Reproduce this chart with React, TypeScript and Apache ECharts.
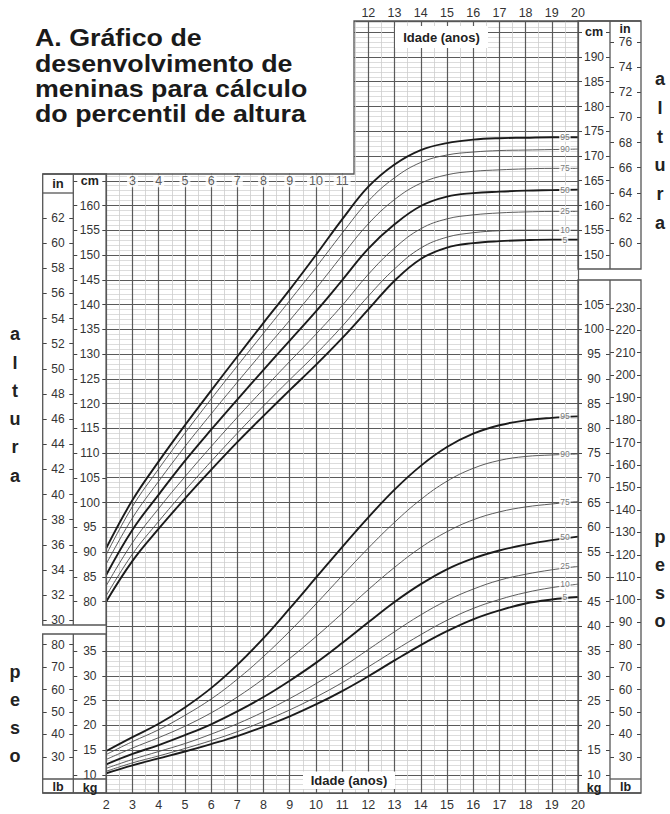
import React, { useEffect, useRef } from "react";
import * as echarts from "echarts";

// ---------------- data ----------------
const AGES = [2, 3, 4, 5, 6, 7, 8, 9, 10, 11, 12, 13, 14, 15, 16, 17, 18, 19, 20];
const PERCENTILES = ["5", "10", "25", "50", "75", "90", "95"];

// stature (cm)
const HEIGHT_P5 = [80.0, 88.2, 94.7, 100.8, 106.6, 112.2, 117.5, 122.7, 127.8, 133.2, 139.0, 144.8, 149.2, 151.5, 152.4, 152.8, 153.0, 153.1, 153.1];
const HEIGHT_P10 = [81.2, 89.6, 96.2, 102.4, 108.3, 114.0, 119.5, 124.8, 130.0, 135.6, 141.7, 147.2, 151.4, 153.6, 154.5, 154.9, 155.0, 155.0, 155.0];
const HEIGHT_P25 = [83.2, 91.9, 98.8, 105.2, 111.3, 117.2, 122.9, 128.5, 134.0, 139.8, 146.1, 151.4, 155.3, 157.3, 158.1, 158.5, 158.7, 158.8, 158.8];
const HEIGHT_P50 = [85.4, 94.5, 101.6, 108.4, 114.7, 120.8, 126.8, 132.7, 138.6, 144.9, 151.3, 156.2, 159.9, 161.8, 162.5, 162.8, 163.0, 163.1, 163.2];
const HEIGHT_P75 = [87.6, 96.9, 104.3, 111.3, 117.9, 124.3, 130.6, 136.8, 143.2, 149.9, 156.3, 161.2, 164.5, 166.2, 166.9, 167.2, 167.4, 167.5, 167.5];
const HEIGHT_P90 = [89.5, 99.2, 106.8, 114.0, 120.9, 127.6, 134.2, 140.8, 147.5, 154.4, 160.9, 165.6, 168.7, 170.2, 170.8, 171.1, 171.2, 171.3, 171.4];
const HEIGHT_P95 = [90.8, 100.5, 108.3, 115.6, 122.6, 129.5, 136.3, 143.0, 150.0, 157.2, 163.8, 168.3, 171.2, 172.6, 173.3, 173.6, 173.7, 173.8, 173.8];

// weight (kg)
const WEIGHT_P5 = [10.3, 11.9, 13.3, 14.7, 16.2, 17.8, 19.7, 21.8, 24.2, 26.9, 29.9, 33.1, 36.2, 39.0, 41.4, 43.2, 44.6, 45.4, 45.9];
const WEIGHT_P10 = [10.7, 12.4, 13.8, 15.3, 16.9, 18.7, 20.8, 23.1, 25.7, 28.6, 31.8, 35.1, 38.3, 41.2, 43.6, 45.4, 46.8, 47.8, 48.5];
const WEIGHT_P25 = [11.3, 13.1, 14.7, 16.3, 18.2, 20.3, 22.7, 25.4, 28.4, 31.7, 35.3, 38.9, 42.3, 45.2, 47.5, 49.3, 50.5, 51.4, 52.1];
const WEIGHT_P50 = [12.1, 14.2, 16.0, 18.0, 20.2, 22.8, 25.7, 29.0, 32.6, 36.6, 40.8, 44.9, 48.5, 51.5, 53.7, 55.3, 56.5, 57.4, 58.1];
const WEIGHT_P75 = [13.1, 15.4, 17.5, 19.8, 22.5, 25.7, 29.4, 33.5, 37.9, 42.6, 47.4, 51.9, 55.9, 59.1, 61.5, 63.1, 64.1, 64.7, 65.2];
const WEIGHT_P90 = [14.1, 16.7, 19.1, 22.0, 25.3, 29.3, 33.9, 39.0, 44.5, 50.2, 55.8, 61.0, 65.6, 69.3, 71.9, 73.5, 74.3, 74.6, 74.8];
const WEIGHT_P95 = [14.8, 17.6, 20.3, 23.6, 27.5, 32.2, 37.6, 43.6, 49.8, 56.0, 62.0, 67.6, 72.4, 76.2, 78.9, 80.6, 81.6, 82.1, 82.4];

const HEIGHTS = [HEIGHT_P5, HEIGHT_P10, HEIGHT_P25, HEIGHT_P50, HEIGHT_P75, HEIGHT_P90, HEIGHT_P95];
const WEIGHTS = [WEIGHT_P5, WEIGHT_P10, WEIGHT_P25, WEIGHT_P50, WEIGHT_P75, WEIGHT_P90, WEIGHT_P95];
const THICK = ["5", "50", "95"];
const LABEL_AGE = 19.5;

// tick labels
const TOP_AGE_TICKS = [12, 13, 14, 15, 16, 17, 18, 19, 20];
const INNER_AGE_TICKS = [3, 4, 5, 6, 7, 8, 9, 10, 11];
const IN_LEFT_TICKS = [30, 32, 34, 36, 38, 40, 42, 44, 46, 48, 50, 52, 54, 56, 58, 60, 62];
const CM_LEFT_TICKS = [80, 85, 90, 95, 100, 105, 110, 115, 120, 125, 130, 135, 140, 145, 150, 155, 160];
const LB_LEFT_TICKS = [30, 40, 50, 60, 70, 80];
const KG_LEFT_TICKS = [10, 15, 20, 25, 30, 35];
const CM_RIGHT_TICKS = [150, 155, 160, 165, 170, 175, 180, 185, 190];
const IN_RIGHT_TICKS = [60, 62, 64, 66, 68, 70, 72, 74, 76];
const KG_RIGHT_TICKS = [10, 15, 20, 25, 30, 35, 40, 45, 50, 55, 60, 65, 70, 75, 80, 85, 90, 95, 100, 105];
const LB_RIGHT_TICKS = [30, 40, 50, 60, 70, 80, 90, 100, 110, 120, 130, 140, 150, 160, 170, 180, 190, 200, 210, 220, 230];

const TITLE_LINES = ["A. Gráfico de", "desenvolvimento de", "meninas para cálculo", "do percentil de altura"];

// ---------------- layout ----------------
const W = 670;
const H = 814;
const GX0 = 106.3;
const GX1 = 578;
const GY0 = 21;
const GY1 = 793;
const Y80 = 601.5; // pixel y of 80 cm
const PX = 4.95; // pixels per cm (and per kg)
const KG_OFFSET = 35; // kg scale shares the cm grid: kg = cm - 35
const LB_PER_KG = 2.20462;
const CM_PER_IN = 2.54;
const cmAt = (y: number) => 80 + (Y80 - y) / PX;
const CM_MIN = cmAt(GY1);
const CM_MAX = cmAt(GY0);

const FONT = '"Liberation Sans", Arial, Helvetica, sans-serif';
const NARROW = '"Liberation Sans Narrow", "Liberation Sans", Arial, sans-serif';
const INK = "#222";
const GRID_MAJOR = "#5a5a5a";
const GRID_MINOR = "#cdcdcd";
const BORDER = "#555";
const TICK_FONT = 12;

type Col = {
  x0: number; x1: number; y0: number; y1: number;
  conv: (cm: number) => number; ticks: number[]; header?: number;
};

const COLS: Col[] = [
  { x0: 42.7, x1: 73.3, y0: 193, y1: 625, conv: (c) => c / CM_PER_IN, ticks: IN_LEFT_TICKS },
  { x0: 73.3, x1: GX0, y0: 174, y1: 625, conv: (c) => c, ticks: CM_LEFT_TICKS, header: 165 },
  { x0: 42.7, x1: 73.3, y0: 634, y1: 778, conv: (c) => (c - KG_OFFSET) * LB_PER_KG, ticks: LB_LEFT_TICKS },
  { x0: 73.3, x1: GX0, y0: 634, y1: 778, conv: (c) => c - KG_OFFSET, ticks: KG_LEFT_TICKS },
  { x0: GX1, x1: 610, y0: GY0, y1: 269, conv: (c) => c, ticks: CM_RIGHT_TICKS, header: 195 },
  { x0: 610, x1: 641, y0: GY0, y1: 269, conv: (c) => c / CM_PER_IN, ticks: IN_RIGHT_TICKS },
  { x0: GX1, x1: 610, y0: 280, y1: 778, conv: (c) => c - KG_OFFSET, ticks: KG_RIGHT_TICKS },
  { x0: 610, x1: 641, y0: 280, y1: 778, conv: (c) => (c - KG_OFFSET) * LB_PER_KG, ticks: LB_RIGHT_TICKS },
];

function buildOption(): any {
  const grids: any[] = [{ left: GX0, top: GY0, width: GX1 - GX0, height: GY1 - GY0 }];
  const xAxes: any[] = [
    {
      type: "value", gridIndex: 0, min: 2, max: 20, interval: 1, position: "bottom",
      axisLine: { show: false }, axisTick: { show: false },
      axisLabel: { margin: 5, color: "#333", fontSize: 12.5, fontFamily: FONT },
      splitLine: { show: true, lineStyle: { color: GRID_MAJOR, width: 1.2 } },
      minorTick: { show: false, splitNumber: 2 },
      minorSplitLine: { show: true, lineStyle: { color: GRID_MINOR, width: 0.8 } },
    },
    {
      type: "value", gridIndex: 0, min: 2, max: 20, position: "top",
      axisLine: { show: false },
      axisTick: { show: false, customValues: TOP_AGE_TICKS },
      axisLabel: { margin: 2, color: "#333", fontSize: 12.5, fontFamily: FONT, customValues: TOP_AGE_TICKS },
      splitLine: { show: false },
    },
  ];
  const yAxes: any[] = [
    {
      type: "value", gridIndex: 0, min: CM_MIN, max: CM_MAX, minInterval: 5, maxInterval: 5, splitNumber: 31,
      axisLine: { show: false }, axisTick: { show: false }, axisLabel: { show: false },
      splitLine: { show: true, lineStyle: { color: GRID_MAJOR, width: 1 } },
      minorTick: { show: false, splitNumber: 5 },
      minorSplitLine: { show: true, lineStyle: { color: GRID_MINOR, width: 0.7 } },
    },
    { type: "value", gridIndex: 0, min: CM_MIN - KG_OFFSET, max: CM_MAX - KG_OFFSET, show: false },
  ];

  COLS.forEach((c, i) => {
    const gi = i + 1;
    grids.push({ left: c.x0, top: c.y0, width: c.x1 - c.x0, height: c.y1 - c.y0 });
    xAxes.push({ type: "value", gridIndex: gi, show: false, min: 0, max: 1 });
    const min = c.conv(cmAt(c.y1));
    const max = c.conv(cmAt(c.y0));
    const vals = c.header != null ? [...c.ticks, c.header] : c.ticks;
    const tick = { show: true, inside: true, length: 4, customValues: vals, lineStyle: { color: "#444", width: 1 } };
    yAxes.push({
      type: "value", gridIndex: gi, position: "left", min, max,
      axisLine: { show: false }, splitLine: { show: false }, axisTick: tick,
      axisLabel: {
        show: true, inside: true, align: "center", margin: (c.x1 - c.x0) / 2,
        customValues: vals, color: "#333", fontSize: TICK_FONT, fontFamily: FONT, lineHeight: 12,
        formatter: (v: number) => (c.header != null && Math.abs(v - c.header) < 1e-6 ? "{h|cm}" : String(v)),
        rich: { h: { fontWeight: "bold", fontSize: 12.5, color: INK, fontFamily: FONT } },
      },
    });
    yAxes.push({
      type: "value", gridIndex: gi, position: "right", min, max,
      axisLine: { show: false }, splitLine: { show: false }, axisTick: tick, axisLabel: { show: false },
    });
  });

  const series: any[] = [];
  PERCENTILES.forEach((p, i) => {
    const thick = THICK.includes(p);
    const style = { color: thick ? "#1b1b1b" : "#4a4a4a", width: thick ? 1.9 : 0.9 };
    series.push({
      type: "line", name: "altura P" + p, xAxisIndex: 0, yAxisIndex: 0,
      data: AGES.map((a, j) => [a, HEIGHTS[i][j]]),
      smooth: 0.4, showSymbol: false, symbol: "none", lineStyle: style, z: 3,
    });
    series.push({
      type: "line", name: "peso P" + p, xAxisIndex: 0, yAxisIndex: 1,
      data: AGES.map((a, j) => [a, WEIGHTS[i][j]]),
      smooth: 0.4, showSymbol: false, symbol: "none", lineStyle: style, z: 3,
    });
  });
  const pctLabel = {
    show: true, position: "inside", formatter: "{b}", color: "#555", fontSize: 8.5, fontFamily: FONT,
    backgroundColor: "#fff", padding: [0, 1],
  };
  series.push({
    type: "scatter", name: "rótulos altura", xAxisIndex: 0, yAxisIndex: 0, symbolSize: 0, z: 5,
    data: PERCENTILES.map((p, i) => ({ name: p, value: [LABEL_AGE, HEIGHTS[i][HEIGHTS[i].length - 1]] })),
    label: pctLabel, silent: true,
  });
  series.push({
    type: "scatter", name: "rótulos peso", xAxisIndex: 0, yAxisIndex: 1, symbolSize: 0, z: 5,
    data: PERCENTILES.map((p, i) => ({ name: p, value: [LABEL_AGE, WEIGHTS[i][WEIGHTS[i].length - 1]] })),
    label: pctLabel, silent: true,
  });
  series.push({
    type: "scatter", name: "idades", xAxisIndex: 0, yAxisIndex: 0, symbolSize: 0, z: 5,
    data: INNER_AGE_TICKS.map((a) => ({ name: String(a), value: [a, 165] })),
    label: {
      show: true, position: "inside", formatter: "{b}", color: "#333", fontSize: 12.5, fontFamily: FONT,
      backgroundColor: "#fff", padding: [0, 2],
    },
    silent: true,
  });

  const line = (x1: number, y1: number, x2: number, y2: number, w = 1.3) => ({
    type: "line", z: 120, shape: { x1, y1, x2, y2 }, style: { stroke: BORDER, lineWidth: w },
  });
  const box = (x: number, y: number, w: number, h: number) => ({
    type: "rect", z: 120, shape: { x, y, width: w, height: h }, style: { fill: null, stroke: BORDER, lineWidth: 1.3 },
  });
  const txt = (text: string, x: number, y: number, size: number, family = FONT, extra: any = {}, el: any = {}) => ({
    type: "text", z: 130, x, y, ...el,
    style: {
      text, fontSize: size, fontWeight: "bold", fontFamily: family, fill: INK,
      align: "center", verticalAlign: "middle", ...extra,
    },
  });

  const graphic: any[] = [
    // blank title corner
    { type: "rect", z: 100, shape: { x: 95, y: 0, width: 354 - 95, height: 173.4 }, style: { fill: "#fff" } },
    // outline of the chart area
    { type: "polyline", z: 120, shape: { points: [[42.7, 174], [354, 174], [354, GY0], [641, GY0]] }, style: { stroke: BORDER, lineWidth: 1.3, fill: null } },
    line(42.7, GY1, 641, GY1),
    line(GX0, 174, GX0, GY1),
    // left boxes
    box(42.7, 174, GX0 - 42.7, 625 - 174),
    line(73.3, 174, 73.3, 625),
    line(42.7, 193, 73.3, 193),
    box(42.7, 634, GX0 - 42.7, GY1 - 634),
    line(73.3, 634, 73.3, GY1),
    line(42.7, 779, GX0, 779),
    // right boxes
    box(GX1, GY0, 641 - GX1, 269 - GY0),
    line(610, GY0, 610, 269),
    box(GX1, 280, 641 - GX1, GY1 - 280),
    line(610, 280, 610, GY1),
    line(610, 779, 641, 779),
    // column headers / footers
    txt("in", 58, 183.5, 13),
    txt("in", 625, 28.5, 12.5),
    txt("lb", 58, 787, 12.5),
    txt("kg", 90, 787.5, 12.5),
    txt("kg", 594, 787.5, 12.5),
    txt("lb", 625.5, 787, 12.5),
    // "Idade (anos)" tags
    { type: "rect", z: 110, shape: { x: 395, y: 26, width: 93, height: 22 }, style: { fill: "#fff" } },
    txt("Idade (anos)", 441.5, 37.5, 13, NARROW),
    { type: "rect", z: 110, shape: { x: 303, y: 771.5, width: 92, height: 17.5 }, style: { fill: "#fff" } },
    txt("Idade (anos)", 349, 780.5, 13, NARROW),
    // side words
    txt("a\nl\nt\nu\nr\na", 15, 405, 18, NARROW, { lineHeight: 28.3 }),
    txt("a\nl\nt\nu\nr\na", 660, 151, 18, NARROW, { lineHeight: 28.7 }),
    txt("p\ne\ns\no", 15, 714, 18, NARROW, { lineHeight: 27.8 }),
    txt("p\ne\ns\no", 660, 578.5, 18, NARROW, { lineHeight: 28 }),
  ];
  TITLE_LINES.forEach((t, i) => {
    graphic.push(txt(t, 35, 38 + i * 25.3, 23.5, FONT, { align: "left", fill: "#1a1a1a" }, { scaleX: 1.14 }));
  });

  return {
    animation: false,
    backgroundColor: "#fff",
    textStyle: { fontFamily: FONT },
    grid: grids,
    xAxis: xAxes,
    yAxis: yAxes,
    series,
    graphic,
  };
}

export default function App() {
  const ref = useRef<HTMLDivElement>(null);
  useEffect(() => {
    if (!ref.current) return;
    const chart = echarts.init(ref.current, null, { renderer: "svg" });
    chart.setOption(buildOption());
    return () => chart.dispose();
  }, []);
  return (
    <div
      ref={ref}
      style={{ position: "fixed", left: 0, top: 0, width: W, height: H, background: "#fff" }}
    />
  );
}
